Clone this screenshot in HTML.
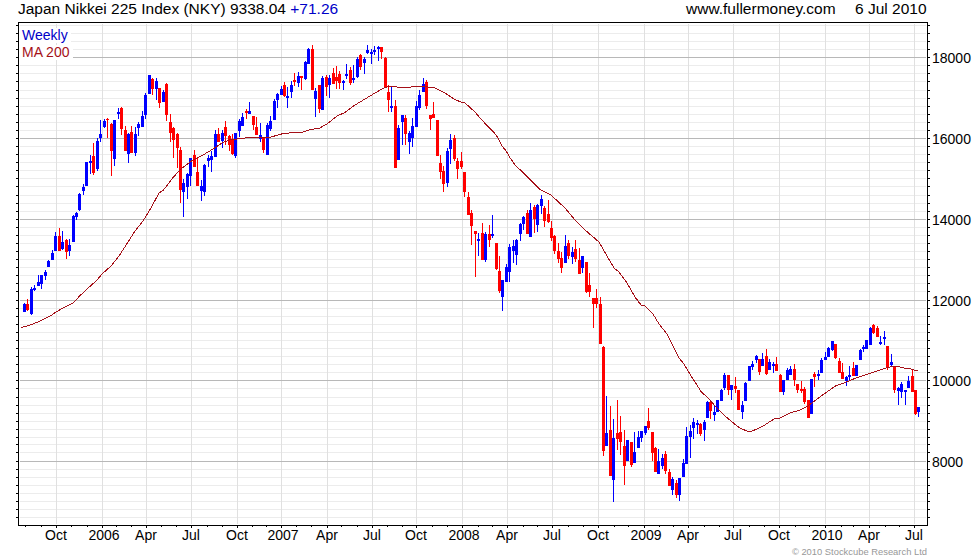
<!DOCTYPE html>
<html><head><meta charset="utf-8"><title>Japan Nikkei 225 Index</title>
<style>
html,body{margin:0;padding:0;background:#fff;}
body{width:980px;height:560px;overflow:hidden;position:relative;font-family:"Liberation Sans",sans-serif;}
svg{position:absolute;left:0;top:0;}
.t{position:absolute;white-space:nowrap;color:#000;line-height:1;}
</style></head><body>
<svg width="980" height="560" viewBox="0 0 980 560">
<rect x="0" y="0" width="980" height="560" fill="#fff"/>
<g shape-rendering="crispEdges">
<rect x="20" y="517" width="906" height="1" fill="#ececec"/><rect x="20" y="509" width="906" height="1" fill="#ececec"/><rect x="20" y="501" width="906" height="1" fill="#ececec"/><rect x="20" y="493" width="906" height="1" fill="#ececec"/><rect x="20" y="485" width="906" height="1" fill="#ececec"/><rect x="20" y="477" width="906" height="1" fill="#ececec"/><rect x="20" y="469" width="906" height="1" fill="#ececec"/><rect x="20" y="452" width="906" height="1" fill="#ececec"/><rect x="20" y="444" width="906" height="1" fill="#ececec"/><rect x="20" y="437" width="906" height="1" fill="#ececec"/><rect x="20" y="429" width="906" height="1" fill="#ececec"/><rect x="20" y="421" width="906" height="1" fill="#ececec"/><rect x="20" y="413" width="906" height="1" fill="#ececec"/><rect x="20" y="405" width="906" height="1" fill="#ececec"/><rect x="20" y="397" width="906" height="1" fill="#ececec"/><rect x="20" y="388" width="906" height="1" fill="#ececec"/><rect x="20" y="372" width="906" height="1" fill="#ececec"/><rect x="20" y="364" width="906" height="1" fill="#ececec"/><rect x="20" y="356" width="906" height="1" fill="#ececec"/><rect x="20" y="348" width="906" height="1" fill="#ececec"/><rect x="20" y="340" width="906" height="1" fill="#ececec"/><rect x="20" y="332" width="906" height="1" fill="#ececec"/><rect x="20" y="324" width="906" height="1" fill="#ececec"/><rect x="20" y="316" width="906" height="1" fill="#ececec"/><rect x="20" y="308" width="906" height="1" fill="#ececec"/><rect x="20" y="291" width="906" height="1" fill="#ececec"/><rect x="20" y="283" width="906" height="1" fill="#ececec"/><rect x="20" y="275" width="906" height="1" fill="#ececec"/><rect x="20" y="267" width="906" height="1" fill="#ececec"/><rect x="20" y="259" width="906" height="1" fill="#ececec"/><rect x="20" y="251" width="906" height="1" fill="#ececec"/><rect x="20" y="243" width="906" height="1" fill="#ececec"/><rect x="20" y="235" width="906" height="1" fill="#ececec"/><rect x="20" y="227" width="906" height="1" fill="#ececec"/><rect x="20" y="211" width="906" height="1" fill="#ececec"/><rect x="20" y="203" width="906" height="1" fill="#ececec"/><rect x="20" y="195" width="906" height="1" fill="#ececec"/><rect x="20" y="186" width="906" height="1" fill="#ececec"/><rect x="20" y="178" width="906" height="1" fill="#ececec"/><rect x="20" y="170" width="906" height="1" fill="#ececec"/><rect x="20" y="162" width="906" height="1" fill="#ececec"/><rect x="20" y="154" width="906" height="1" fill="#ececec"/><rect x="20" y="146" width="906" height="1" fill="#ececec"/><rect x="20" y="130" width="906" height="1" fill="#ececec"/><rect x="20" y="122" width="906" height="1" fill="#ececec"/><rect x="20" y="114" width="906" height="1" fill="#ececec"/><rect x="20" y="106" width="906" height="1" fill="#ececec"/><rect x="20" y="98" width="906" height="1" fill="#ececec"/><rect x="20" y="90" width="906" height="1" fill="#ececec"/><rect x="20" y="81" width="906" height="1" fill="#ececec"/><rect x="20" y="73" width="906" height="1" fill="#ececec"/><rect x="20" y="65" width="906" height="1" fill="#ececec"/><rect x="20" y="49" width="906" height="1" fill="#ececec"/><rect x="20" y="41" width="906" height="1" fill="#ececec"/><rect x="20" y="33" width="906" height="1" fill="#ececec"/><rect x="20" y="25" width="906" height="1" fill="#ececec"/>
<rect x="56" y="24" width="1" height="500" fill="#e0e0e0"/><rect x="102" y="24" width="1" height="500" fill="#e0e0e0"/><rect x="146" y="24" width="1" height="500" fill="#e0e0e0"/><rect x="191" y="24" width="1" height="500" fill="#e0e0e0"/><rect x="237" y="24" width="1" height="500" fill="#e0e0e0"/><rect x="281" y="24" width="1" height="500" fill="#e0e0e0"/><rect x="327" y="24" width="1" height="500" fill="#e0e0e0"/><rect x="372" y="24" width="1" height="500" fill="#e0e0e0"/><rect x="416" y="24" width="1" height="500" fill="#e0e0e0"/><rect x="462" y="24" width="1" height="500" fill="#e0e0e0"/><rect x="507" y="24" width="1" height="500" fill="#e0e0e0"/><rect x="552" y="24" width="1" height="500" fill="#e0e0e0"/><rect x="598" y="24" width="1" height="500" fill="#e0e0e0"/><rect x="644" y="24" width="1" height="500" fill="#e0e0e0"/><rect x="688" y="24" width="1" height="500" fill="#e0e0e0"/><rect x="733" y="24" width="1" height="500" fill="#e0e0e0"/><rect x="779" y="24" width="1" height="500" fill="#e0e0e0"/><rect x="825" y="24" width="1" height="500" fill="#e0e0e0"/><rect x="869" y="24" width="1" height="500" fill="#e0e0e0"/><rect x="914" y="24" width="1" height="500" fill="#e0e0e0"/>
<rect x="20" y="461" width="906" height="1" fill="#b8b8b8"/><rect x="20" y="380" width="906" height="1" fill="#b8b8b8"/><rect x="20" y="300" width="906" height="1" fill="#b8b8b8"/><rect x="20" y="219" width="906" height="1" fill="#b8b8b8"/><rect x="20" y="138" width="906" height="1" fill="#b8b8b8"/><rect x="20" y="57" width="906" height="1" fill="#b8b8b8"/>
<rect x="19" y="28" width="52" height="15" fill="#fff"/><rect x="19" y="45" width="54" height="15" fill="#fff"/>
<rect x="16" y="517" width="2" height="1" fill="#000"/><rect x="928" y="517" width="2" height="1" fill="#000"/><rect x="16" y="509" width="2" height="1" fill="#000"/><rect x="928" y="509" width="2" height="1" fill="#000"/><rect x="16" y="501" width="2" height="1" fill="#000"/><rect x="928" y="501" width="2" height="1" fill="#000"/><rect x="16" y="493" width="2" height="1" fill="#000"/><rect x="928" y="493" width="2" height="1" fill="#000"/><rect x="16" y="485" width="2" height="1" fill="#000"/><rect x="928" y="485" width="2" height="1" fill="#000"/><rect x="16" y="477" width="2" height="1" fill="#000"/><rect x="928" y="477" width="2" height="1" fill="#000"/><rect x="16" y="469" width="2" height="1" fill="#000"/><rect x="928" y="469" width="2" height="1" fill="#000"/><rect x="16" y="461" width="2" height="1" fill="#000"/><rect x="928" y="461" width="2" height="1" fill="#000"/><rect x="16" y="452" width="2" height="1" fill="#000"/><rect x="928" y="452" width="2" height="1" fill="#000"/><rect x="16" y="444" width="2" height="1" fill="#000"/><rect x="928" y="444" width="2" height="1" fill="#000"/><rect x="16" y="437" width="2" height="1" fill="#000"/><rect x="928" y="437" width="2" height="1" fill="#000"/><rect x="16" y="429" width="2" height="1" fill="#000"/><rect x="928" y="429" width="2" height="1" fill="#000"/><rect x="16" y="421" width="2" height="1" fill="#000"/><rect x="928" y="421" width="2" height="1" fill="#000"/><rect x="16" y="413" width="2" height="1" fill="#000"/><rect x="928" y="413" width="2" height="1" fill="#000"/><rect x="16" y="405" width="2" height="1" fill="#000"/><rect x="928" y="405" width="2" height="1" fill="#000"/><rect x="16" y="397" width="2" height="1" fill="#000"/><rect x="928" y="397" width="2" height="1" fill="#000"/><rect x="16" y="388" width="2" height="1" fill="#000"/><rect x="928" y="388" width="2" height="1" fill="#000"/><rect x="16" y="380" width="2" height="1" fill="#000"/><rect x="928" y="380" width="2" height="1" fill="#000"/><rect x="16" y="372" width="2" height="1" fill="#000"/><rect x="928" y="372" width="2" height="1" fill="#000"/><rect x="16" y="364" width="2" height="1" fill="#000"/><rect x="928" y="364" width="2" height="1" fill="#000"/><rect x="16" y="356" width="2" height="1" fill="#000"/><rect x="928" y="356" width="2" height="1" fill="#000"/><rect x="16" y="348" width="2" height="1" fill="#000"/><rect x="928" y="348" width="2" height="1" fill="#000"/><rect x="16" y="340" width="2" height="1" fill="#000"/><rect x="928" y="340" width="2" height="1" fill="#000"/><rect x="16" y="332" width="2" height="1" fill="#000"/><rect x="928" y="332" width="2" height="1" fill="#000"/><rect x="16" y="324" width="2" height="1" fill="#000"/><rect x="928" y="324" width="2" height="1" fill="#000"/><rect x="16" y="316" width="2" height="1" fill="#000"/><rect x="928" y="316" width="2" height="1" fill="#000"/><rect x="16" y="308" width="2" height="1" fill="#000"/><rect x="928" y="308" width="2" height="1" fill="#000"/><rect x="16" y="300" width="2" height="1" fill="#000"/><rect x="928" y="300" width="2" height="1" fill="#000"/><rect x="16" y="291" width="2" height="1" fill="#000"/><rect x="928" y="291" width="2" height="1" fill="#000"/><rect x="16" y="283" width="2" height="1" fill="#000"/><rect x="928" y="283" width="2" height="1" fill="#000"/><rect x="16" y="275" width="2" height="1" fill="#000"/><rect x="928" y="275" width="2" height="1" fill="#000"/><rect x="16" y="267" width="2" height="1" fill="#000"/><rect x="928" y="267" width="2" height="1" fill="#000"/><rect x="16" y="259" width="2" height="1" fill="#000"/><rect x="928" y="259" width="2" height="1" fill="#000"/><rect x="16" y="251" width="2" height="1" fill="#000"/><rect x="928" y="251" width="2" height="1" fill="#000"/><rect x="16" y="243" width="2" height="1" fill="#000"/><rect x="928" y="243" width="2" height="1" fill="#000"/><rect x="16" y="235" width="2" height="1" fill="#000"/><rect x="928" y="235" width="2" height="1" fill="#000"/><rect x="16" y="227" width="2" height="1" fill="#000"/><rect x="928" y="227" width="2" height="1" fill="#000"/><rect x="16" y="219" width="2" height="1" fill="#000"/><rect x="928" y="219" width="2" height="1" fill="#000"/><rect x="16" y="211" width="2" height="1" fill="#000"/><rect x="928" y="211" width="2" height="1" fill="#000"/><rect x="16" y="203" width="2" height="1" fill="#000"/><rect x="928" y="203" width="2" height="1" fill="#000"/><rect x="16" y="195" width="2" height="1" fill="#000"/><rect x="928" y="195" width="2" height="1" fill="#000"/><rect x="16" y="186" width="2" height="1" fill="#000"/><rect x="928" y="186" width="2" height="1" fill="#000"/><rect x="16" y="178" width="2" height="1" fill="#000"/><rect x="928" y="178" width="2" height="1" fill="#000"/><rect x="16" y="170" width="2" height="1" fill="#000"/><rect x="928" y="170" width="2" height="1" fill="#000"/><rect x="16" y="162" width="2" height="1" fill="#000"/><rect x="928" y="162" width="2" height="1" fill="#000"/><rect x="16" y="154" width="2" height="1" fill="#000"/><rect x="928" y="154" width="2" height="1" fill="#000"/><rect x="16" y="146" width="2" height="1" fill="#000"/><rect x="928" y="146" width="2" height="1" fill="#000"/><rect x="16" y="138" width="2" height="1" fill="#000"/><rect x="928" y="138" width="2" height="1" fill="#000"/><rect x="16" y="130" width="2" height="1" fill="#000"/><rect x="928" y="130" width="2" height="1" fill="#000"/><rect x="16" y="122" width="2" height="1" fill="#000"/><rect x="928" y="122" width="2" height="1" fill="#000"/><rect x="16" y="114" width="2" height="1" fill="#000"/><rect x="928" y="114" width="2" height="1" fill="#000"/><rect x="16" y="106" width="2" height="1" fill="#000"/><rect x="928" y="106" width="2" height="1" fill="#000"/><rect x="16" y="98" width="2" height="1" fill="#000"/><rect x="928" y="98" width="2" height="1" fill="#000"/><rect x="16" y="90" width="2" height="1" fill="#000"/><rect x="928" y="90" width="2" height="1" fill="#000"/><rect x="16" y="81" width="2" height="1" fill="#000"/><rect x="928" y="81" width="2" height="1" fill="#000"/><rect x="16" y="73" width="2" height="1" fill="#000"/><rect x="928" y="73" width="2" height="1" fill="#000"/><rect x="16" y="65" width="2" height="1" fill="#000"/><rect x="928" y="65" width="2" height="1" fill="#000"/><rect x="16" y="57" width="2" height="1" fill="#000"/><rect x="928" y="57" width="2" height="1" fill="#000"/><rect x="16" y="49" width="2" height="1" fill="#000"/><rect x="928" y="49" width="2" height="1" fill="#000"/><rect x="16" y="41" width="2" height="1" fill="#000"/><rect x="928" y="41" width="2" height="1" fill="#000"/><rect x="16" y="33" width="2" height="1" fill="#000"/><rect x="928" y="33" width="2" height="1" fill="#000"/><rect x="16" y="25" width="2" height="1" fill="#000"/><rect x="928" y="25" width="2" height="1" fill="#000"/>
<rect x="25" y="526" width="1" height="1" fill="#000"/><rect x="41" y="526" width="1" height="1" fill="#000"/><rect x="56" y="526" width="1" height="2" fill="#000"/><rect x="71" y="526" width="1" height="1" fill="#000"/><rect x="87" y="526" width="1" height="1" fill="#000"/><rect x="102" y="526" width="1" height="2" fill="#000"/><rect x="116" y="526" width="1" height="1" fill="#000"/><rect x="131" y="526" width="1" height="1" fill="#000"/><rect x="146" y="526" width="1" height="2" fill="#000"/><rect x="161" y="526" width="1" height="1" fill="#000"/><rect x="176" y="526" width="1" height="1" fill="#000"/><rect x="191" y="526" width="1" height="2" fill="#000"/><rect x="207" y="526" width="1" height="1" fill="#000"/><rect x="222" y="526" width="1" height="1" fill="#000"/><rect x="237" y="526" width="1" height="2" fill="#000"/><rect x="252" y="526" width="1" height="1" fill="#000"/><rect x="266" y="526" width="1" height="1" fill="#000"/><rect x="281" y="526" width="1" height="2" fill="#000"/><rect x="296" y="526" width="1" height="1" fill="#000"/><rect x="311" y="526" width="1" height="1" fill="#000"/><rect x="327" y="526" width="1" height="2" fill="#000"/><rect x="341" y="526" width="1" height="1" fill="#000"/><rect x="357" y="526" width="1" height="1" fill="#000"/><rect x="372" y="526" width="1" height="2" fill="#000"/><rect x="387" y="526" width="1" height="1" fill="#000"/><rect x="402" y="526" width="1" height="1" fill="#000"/><rect x="416" y="526" width="1" height="2" fill="#000"/><rect x="432" y="526" width="1" height="1" fill="#000"/><rect x="447" y="526" width="1" height="1" fill="#000"/><rect x="462" y="526" width="1" height="2" fill="#000"/><rect x="478" y="526" width="1" height="1" fill="#000"/><rect x="492" y="526" width="1" height="1" fill="#000"/><rect x="507" y="526" width="1" height="2" fill="#000"/><rect x="523" y="526" width="1" height="1" fill="#000"/><rect x="537" y="526" width="1" height="1" fill="#000"/><rect x="552" y="526" width="1" height="2" fill="#000"/><rect x="568" y="526" width="1" height="1" fill="#000"/><rect x="583" y="526" width="1" height="1" fill="#000"/><rect x="598" y="526" width="1" height="2" fill="#000"/><rect x="614" y="526" width="1" height="1" fill="#000"/><rect x="628" y="526" width="1" height="1" fill="#000"/><rect x="644" y="526" width="1" height="2" fill="#000"/><rect x="659" y="526" width="1" height="1" fill="#000"/><rect x="673" y="526" width="1" height="1" fill="#000"/><rect x="688" y="526" width="1" height="2" fill="#000"/><rect x="704" y="526" width="1" height="1" fill="#000"/><rect x="719" y="526" width="1" height="1" fill="#000"/><rect x="733" y="526" width="1" height="2" fill="#000"/><rect x="749" y="526" width="1" height="1" fill="#000"/><rect x="764" y="526" width="1" height="1" fill="#000"/><rect x="779" y="526" width="1" height="2" fill="#000"/><rect x="795" y="526" width="1" height="1" fill="#000"/><rect x="809" y="526" width="1" height="1" fill="#000"/><rect x="825" y="526" width="1" height="2" fill="#000"/><rect x="841" y="526" width="1" height="1" fill="#000"/><rect x="853" y="526" width="1" height="1" fill="#000"/><rect x="869" y="526" width="1" height="2" fill="#000"/><rect x="885" y="526" width="1" height="1" fill="#000"/><rect x="899" y="526" width="1" height="1" fill="#000"/><rect x="914" y="526" width="1" height="2" fill="#000"/>
<rect x="18" y="22" width="910" height="1" fill="#000"/><rect x="18" y="525" width="910" height="1" fill="#000"/><rect x="18" y="22" width="1" height="504" fill="#000"/><rect x="927" y="22" width="1" height="504" fill="#000"/>
<rect x="24" y="303" width="1" height="9" fill="#0000ff"/><rect x="23" y="304" width="3" height="8" fill="#0000ff"/><rect x="27" y="299" width="1" height="12" fill="#ff0000"/><rect x="26" y="304" width="3" height="6" fill="#ff0000"/><rect x="31" y="287" width="1" height="28" fill="#0000ff"/><rect x="30" y="289" width="3" height="25" fill="#0000ff"/><rect x="34" y="285" width="1" height="6" fill="#0000ff"/><rect x="33" y="288" width="3" height="2" fill="#0000ff"/><rect x="38" y="275" width="1" height="11" fill="#0000ff"/><rect x="37" y="282" width="3" height="4" fill="#0000ff"/><rect x="41" y="275" width="1" height="14" fill="#0000ff"/><rect x="40" y="275" width="3" height="9" fill="#0000ff"/><rect x="45" y="270" width="1" height="10" fill="#0000ff"/><rect x="44" y="272" width="3" height="4" fill="#0000ff"/><rect x="48" y="260" width="1" height="7" fill="#0000ff"/><rect x="47" y="261" width="3" height="6" fill="#0000ff"/><rect x="52" y="250" width="1" height="10" fill="#0000ff"/><rect x="51" y="253" width="3" height="7" fill="#0000ff"/><rect x="55" y="232" width="1" height="19" fill="#0000ff"/><rect x="54" y="236" width="3" height="15" fill="#0000ff"/><rect x="59" y="228" width="1" height="23" fill="#ff0000"/><rect x="58" y="236" width="3" height="15" fill="#ff0000"/><rect x="62" y="231" width="1" height="19" fill="#0000ff"/><rect x="61" y="242" width="3" height="7" fill="#0000ff"/><rect x="66" y="239" width="1" height="20" fill="#ff0000"/><rect x="65" y="240" width="3" height="12" fill="#ff0000"/><rect x="69" y="239" width="1" height="17" fill="#0000ff"/><rect x="68" y="245" width="3" height="6" fill="#0000ff"/><rect x="73" y="215" width="1" height="27" fill="#0000ff"/><rect x="72" y="216" width="3" height="26" fill="#0000ff"/><rect x="76" y="212" width="1" height="8" fill="#0000ff"/><rect x="75" y="213" width="3" height="4" fill="#0000ff"/><rect x="79" y="193" width="1" height="18" fill="#0000ff"/><rect x="78" y="194" width="3" height="16" fill="#0000ff"/><rect x="83" y="184" width="1" height="11" fill="#0000ff"/><rect x="82" y="187" width="3" height="4" fill="#0000ff"/><rect x="86" y="162" width="1" height="24" fill="#0000ff"/><rect x="85" y="162" width="3" height="24" fill="#0000ff"/><rect x="90" y="155" width="1" height="19" fill="#0000ff"/><rect x="89" y="161" width="3" height="2" fill="#0000ff"/><rect x="93" y="143" width="1" height="32" fill="#ff0000"/><rect x="92" y="156" width="3" height="17" fill="#ff0000"/><rect x="97" y="138" width="1" height="33" fill="#0000ff"/><rect x="96" y="141" width="3" height="28" fill="#0000ff"/><rect x="100" y="120" width="1" height="22" fill="#0000ff"/><rect x="99" y="134" width="3" height="4" fill="#0000ff"/><rect x="104" y="119" width="1" height="9" fill="#0000ff"/><rect x="103" y="121" width="3" height="6" fill="#0000ff"/><rect x="107" y="118" width="1" height="20" fill="#ff0000"/><rect x="106" y="119" width="3" height="1" fill="#ff0000"/><rect x="111" y="123" width="1" height="53" fill="#ff0000"/><rect x="110" y="124" width="3" height="27" fill="#ff0000"/><rect x="114" y="120" width="1" height="46" fill="#0000ff"/><rect x="113" y="120" width="3" height="39" fill="#0000ff"/><rect x="118" y="108" width="1" height="11" fill="#0000ff"/><rect x="117" y="112" width="3" height="2" fill="#0000ff"/><rect x="121" y="107" width="1" height="28" fill="#ff0000"/><rect x="120" y="108" width="3" height="21" fill="#ff0000"/><rect x="125" y="126" width="1" height="25" fill="#ff0000"/><rect x="124" y="130" width="3" height="21" fill="#ff0000"/><rect x="128" y="133" width="1" height="30" fill="#0000ff"/><rect x="127" y="134" width="3" height="20" fill="#0000ff"/><rect x="131" y="126" width="1" height="27" fill="#ff0000"/><rect x="130" y="132" width="3" height="21" fill="#ff0000"/><rect x="135" y="127" width="1" height="29" fill="#0000ff"/><rect x="134" y="134" width="3" height="19" fill="#0000ff"/><rect x="138" y="122" width="1" height="14" fill="#0000ff"/><rect x="137" y="124" width="3" height="4" fill="#0000ff"/><rect x="142" y="111" width="1" height="16" fill="#0000ff"/><rect x="141" y="116" width="3" height="11" fill="#0000ff"/><rect x="145" y="93" width="1" height="26" fill="#0000ff"/><rect x="144" y="95" width="3" height="20" fill="#0000ff"/><rect x="149" y="75" width="1" height="19" fill="#0000ff"/><rect x="148" y="75" width="3" height="19" fill="#0000ff"/><rect x="152" y="78" width="1" height="17" fill="#ff0000"/><rect x="151" y="79" width="3" height="10" fill="#ff0000"/><rect x="156" y="78" width="1" height="22" fill="#0000ff"/><rect x="155" y="81" width="3" height="8" fill="#0000ff"/><rect x="159" y="88" width="1" height="20" fill="#ff0000"/><rect x="158" y="88" width="3" height="15" fill="#ff0000"/><rect x="163" y="90" width="1" height="12" fill="#0000ff"/><rect x="162" y="92" width="3" height="10" fill="#0000ff"/><rect x="166" y="83" width="1" height="38" fill="#ff0000"/><rect x="165" y="84" width="3" height="31" fill="#ff0000"/><rect x="170" y="114" width="1" height="28" fill="#ff0000"/><rect x="169" y="122" width="3" height="11" fill="#ff0000"/><rect x="173" y="127" width="1" height="31" fill="#ff0000"/><rect x="172" y="128" width="3" height="12" fill="#ff0000"/><rect x="177" y="133" width="1" height="35" fill="#ff0000"/><rect x="176" y="134" width="3" height="14" fill="#ff0000"/><rect x="180" y="147" width="1" height="56" fill="#ff0000"/><rect x="179" y="150" width="3" height="40" fill="#ff0000"/><rect x="183" y="179" width="1" height="38" fill="#0000ff"/><rect x="182" y="183" width="3" height="9" fill="#0000ff"/><rect x="187" y="173" width="1" height="26" fill="#0000ff"/><rect x="186" y="174" width="3" height="13" fill="#0000ff"/><rect x="190" y="158" width="1" height="28" fill="#0000ff"/><rect x="189" y="158" width="3" height="18" fill="#0000ff"/><rect x="194" y="150" width="1" height="17" fill="#ff0000"/><rect x="193" y="155" width="3" height="12" fill="#ff0000"/><rect x="197" y="157" width="1" height="29" fill="#ff0000"/><rect x="196" y="172" width="3" height="14" fill="#ff0000"/><rect x="201" y="180" width="1" height="21" fill="#0000ff"/><rect x="200" y="186" width="3" height="5" fill="#0000ff"/><rect x="204" y="164" width="1" height="32" fill="#0000ff"/><rect x="203" y="165" width="3" height="27" fill="#0000ff"/><rect x="208" y="155" width="1" height="12" fill="#0000ff"/><rect x="207" y="158" width="3" height="3" fill="#0000ff"/><rect x="211" y="151" width="1" height="21" fill="#0000ff"/><rect x="210" y="156" width="3" height="4" fill="#0000ff"/><rect x="215" y="130" width="1" height="27" fill="#0000ff"/><rect x="214" y="134" width="3" height="23" fill="#0000ff"/><rect x="218" y="128" width="1" height="14" fill="#ff0000"/><rect x="217" y="134" width="3" height="8" fill="#ff0000"/><rect x="222" y="130" width="1" height="18" fill="#0000ff"/><rect x="221" y="133" width="3" height="8" fill="#0000ff"/><rect x="225" y="121" width="1" height="24" fill="#ff0000"/><rect x="224" y="127" width="3" height="9" fill="#ff0000"/><rect x="229" y="135" width="1" height="16" fill="#ff0000"/><rect x="228" y="136" width="3" height="9" fill="#ff0000"/><rect x="232" y="134" width="1" height="21" fill="#ff0000"/><rect x="231" y="140" width="3" height="14" fill="#ff0000"/><rect x="235" y="133" width="1" height="25" fill="#0000ff"/><rect x="234" y="133" width="3" height="23" fill="#0000ff"/><rect x="239" y="119" width="1" height="18" fill="#0000ff"/><rect x="238" y="121" width="3" height="10" fill="#0000ff"/><rect x="242" y="113" width="1" height="13" fill="#0000ff"/><rect x="241" y="117" width="3" height="9" fill="#0000ff"/><rect x="246" y="109" width="1" height="10" fill="#ff0000"/><rect x="245" y="111" width="3" height="2" fill="#ff0000"/><rect x="249" y="102" width="1" height="12" fill="#0000ff"/><rect x="248" y="111" width="3" height="3" fill="#0000ff"/><rect x="253" y="116" width="1" height="14" fill="#ff0000"/><rect x="252" y="116" width="3" height="9" fill="#ff0000"/><rect x="256" y="117" width="1" height="18" fill="#ff0000"/><rect x="255" y="127" width="3" height="8" fill="#ff0000"/><rect x="260" y="123" width="1" height="19" fill="#0000ff"/><rect x="259" y="135" width="3" height="4" fill="#0000ff"/><rect x="263" y="138" width="1" height="15" fill="#ff0000"/><rect x="262" y="138" width="3" height="12" fill="#ff0000"/><rect x="267" y="123" width="1" height="32" fill="#0000ff"/><rect x="266" y="125" width="3" height="30" fill="#0000ff"/><rect x="270" y="116" width="1" height="15" fill="#0000ff"/><rect x="269" y="121" width="3" height="8" fill="#0000ff"/><rect x="274" y="99" width="1" height="21" fill="#0000ff"/><rect x="273" y="101" width="3" height="19" fill="#0000ff"/><rect x="277" y="93" width="1" height="15" fill="#0000ff"/><rect x="276" y="94" width="3" height="6" fill="#0000ff"/><rect x="281" y="86" width="1" height="9" fill="#0000ff"/><rect x="280" y="89" width="3" height="6" fill="#0000ff"/><rect x="284" y="82" width="1" height="15" fill="#ff0000"/><rect x="283" y="85" width="3" height="11" fill="#ff0000"/><rect x="287" y="87" width="1" height="21" fill="#0000ff"/><rect x="286" y="96" width="3" height="2" fill="#0000ff"/><rect x="291" y="81" width="1" height="17" fill="#0000ff"/><rect x="290" y="85" width="3" height="7" fill="#0000ff"/><rect x="294" y="73" width="1" height="13" fill="#ff0000"/><rect x="293" y="80" width="3" height="2" fill="#ff0000"/><rect x="298" y="72" width="1" height="15" fill="#0000ff"/><rect x="297" y="76" width="3" height="7" fill="#0000ff"/><rect x="301" y="76" width="1" height="14" fill="#ff0000"/><rect x="300" y="76" width="3" height="2" fill="#ff0000"/><rect x="305" y="61" width="1" height="19" fill="#0000ff"/><rect x="304" y="62" width="3" height="17" fill="#0000ff"/><rect x="308" y="48" width="1" height="16" fill="#0000ff"/><rect x="307" y="49" width="3" height="15" fill="#0000ff"/><rect x="312" y="45" width="1" height="45" fill="#ff0000"/><rect x="311" y="49" width="3" height="41" fill="#ff0000"/><rect x="315" y="88" width="1" height="29" fill="#0000ff"/><rect x="314" y="91" width="3" height="8" fill="#0000ff"/><rect x="319" y="85" width="1" height="28" fill="#ff0000"/><rect x="318" y="85" width="3" height="24" fill="#ff0000"/><rect x="322" y="76" width="1" height="34" fill="#0000ff"/><rect x="321" y="78" width="3" height="32" fill="#0000ff"/><rect x="326" y="75" width="1" height="21" fill="#ff0000"/><rect x="325" y="77" width="3" height="10" fill="#ff0000"/><rect x="329" y="75" width="1" height="23" fill="#0000ff"/><rect x="328" y="78" width="3" height="7" fill="#0000ff"/><rect x="333" y="68" width="1" height="16" fill="#ff0000"/><rect x="332" y="73" width="3" height="11" fill="#ff0000"/><rect x="336" y="66" width="1" height="23" fill="#ff0000"/><rect x="335" y="77" width="3" height="4" fill="#ff0000"/><rect x="339" y="71" width="1" height="18" fill="#ff0000"/><rect x="338" y="74" width="3" height="9" fill="#ff0000"/><rect x="343" y="80" width="1" height="10" fill="#0000ff"/><rect x="342" y="81" width="3" height="2" fill="#0000ff"/><rect x="346" y="64" width="1" height="15" fill="#0000ff"/><rect x="345" y="74" width="3" height="2" fill="#0000ff"/><rect x="350" y="67" width="1" height="18" fill="#ff0000"/><rect x="349" y="70" width="3" height="13" fill="#ff0000"/><rect x="353" y="65" width="1" height="18" fill="#0000ff"/><rect x="352" y="78" width="3" height="2" fill="#0000ff"/><rect x="357" y="57" width="1" height="21" fill="#0000ff"/><rect x="356" y="59" width="3" height="18" fill="#0000ff"/><rect x="360" y="54" width="1" height="16" fill="#ff0000"/><rect x="359" y="55" width="3" height="12" fill="#ff0000"/><rect x="364" y="57" width="1" height="17" fill="#0000ff"/><rect x="363" y="59" width="3" height="4" fill="#0000ff"/><rect x="367" y="45" width="1" height="9" fill="#0000ff"/><rect x="366" y="50" width="3" height="3" fill="#0000ff"/><rect x="371" y="49" width="1" height="15" fill="#0000ff"/><rect x="370" y="52" width="3" height="2" fill="#0000ff"/><rect x="374" y="46" width="1" height="9" fill="#0000ff"/><rect x="373" y="50" width="3" height="2" fill="#0000ff"/><rect x="378" y="46" width="1" height="15" fill="#0000ff"/><rect x="377" y="47" width="3" height="2" fill="#0000ff"/><rect x="381" y="47" width="1" height="12" fill="#ff0000"/><rect x="380" y="47" width="3" height="5" fill="#ff0000"/><rect x="385" y="57" width="1" height="31" fill="#ff0000"/><rect x="384" y="58" width="3" height="30" fill="#ff0000"/><rect x="388" y="85" width="1" height="27" fill="#ff0000"/><rect x="387" y="92" width="3" height="8" fill="#ff0000"/><rect x="391" y="87" width="1" height="25" fill="#0000ff"/><rect x="390" y="106" width="3" height="2" fill="#0000ff"/><rect x="395" y="100" width="1" height="68" fill="#ff0000"/><rect x="394" y="106" width="3" height="62" fill="#ff0000"/><rect x="398" y="125" width="1" height="35" fill="#0000ff"/><rect x="397" y="128" width="3" height="32" fill="#0000ff"/><rect x="402" y="115" width="1" height="30" fill="#0000ff"/><rect x="401" y="115" width="3" height="7" fill="#0000ff"/><rect x="405" y="115" width="1" height="30" fill="#ff0000"/><rect x="404" y="118" width="3" height="16" fill="#ff0000"/><rect x="409" y="131" width="1" height="23" fill="#0000ff"/><rect x="408" y="133" width="3" height="9" fill="#0000ff"/><rect x="412" y="118" width="1" height="29" fill="#0000ff"/><rect x="411" y="126" width="3" height="12" fill="#0000ff"/><rect x="416" y="101" width="1" height="26" fill="#0000ff"/><rect x="415" y="106" width="3" height="21" fill="#0000ff"/><rect x="419" y="90" width="1" height="20" fill="#0000ff"/><rect x="418" y="95" width="3" height="13" fill="#0000ff"/><rect x="423" y="78" width="1" height="14" fill="#0000ff"/><rect x="422" y="84" width="3" height="8" fill="#0000ff"/><rect x="426" y="80" width="1" height="29" fill="#ff0000"/><rect x="425" y="82" width="3" height="24" fill="#ff0000"/><rect x="430" y="115" width="1" height="15" fill="#ff0000"/><rect x="429" y="115" width="3" height="4" fill="#ff0000"/><rect x="433" y="102" width="1" height="16" fill="#ff0000"/><rect x="432" y="114" width="3" height="4" fill="#ff0000"/><rect x="437" y="120" width="1" height="36" fill="#ff0000"/><rect x="436" y="120" width="3" height="36" fill="#ff0000"/><rect x="440" y="155" width="1" height="24" fill="#ff0000"/><rect x="439" y="163" width="3" height="9" fill="#ff0000"/><rect x="443" y="166" width="1" height="26" fill="#ff0000"/><rect x="442" y="171" width="3" height="13" fill="#ff0000"/><rect x="447" y="148" width="1" height="39" fill="#0000ff"/><rect x="446" y="151" width="3" height="32" fill="#0000ff"/><rect x="450" y="134" width="1" height="30" fill="#0000ff"/><rect x="449" y="140" width="3" height="9" fill="#0000ff"/><rect x="454" y="135" width="1" height="26" fill="#ff0000"/><rect x="453" y="138" width="3" height="21" fill="#ff0000"/><rect x="457" y="158" width="1" height="21" fill="#ff0000"/><rect x="456" y="161" width="3" height="8" fill="#ff0000"/><rect x="461" y="152" width="1" height="17" fill="#ff0000"/><rect x="460" y="161" width="3" height="6" fill="#ff0000"/><rect x="464" y="172" width="1" height="25" fill="#ff0000"/><rect x="463" y="172" width="3" height="20" fill="#ff0000"/><rect x="468" y="192" width="1" height="23" fill="#ff0000"/><rect x="467" y="197" width="3" height="18" fill="#ff0000"/><rect x="471" y="210" width="1" height="35" fill="#ff0000"/><rect x="470" y="213" width="3" height="13" fill="#ff0000"/><rect x="475" y="231" width="1" height="46" fill="#ff0000"/><rect x="474" y="231" width="3" height="3" fill="#ff0000"/><rect x="478" y="233" width="1" height="23" fill="#0000ff"/><rect x="477" y="239" width="3" height="2" fill="#0000ff"/><rect x="482" y="223" width="1" height="37" fill="#ff0000"/><rect x="481" y="233" width="3" height="27" fill="#ff0000"/><rect x="485" y="232" width="1" height="30" fill="#0000ff"/><rect x="484" y="234" width="3" height="26" fill="#0000ff"/><rect x="489" y="225" width="1" height="22" fill="#ff0000"/><rect x="488" y="234" width="3" height="6" fill="#ff0000"/><rect x="492" y="215" width="1" height="23" fill="#0000ff"/><rect x="491" y="234" width="3" height="2" fill="#0000ff"/><rect x="496" y="243" width="1" height="27" fill="#ff0000"/><rect x="495" y="243" width="3" height="26" fill="#ff0000"/><rect x="499" y="256" width="1" height="37" fill="#ff0000"/><rect x="498" y="271" width="3" height="20" fill="#ff0000"/><rect x="502" y="280" width="1" height="31" fill="#0000ff"/><rect x="501" y="280" width="3" height="17" fill="#0000ff"/><rect x="506" y="264" width="1" height="18" fill="#0000ff"/><rect x="505" y="267" width="3" height="15" fill="#0000ff"/><rect x="509" y="244" width="1" height="38" fill="#0000ff"/><rect x="508" y="247" width="3" height="25" fill="#0000ff"/><rect x="513" y="240" width="1" height="23" fill="#0000ff"/><rect x="512" y="246" width="3" height="5" fill="#0000ff"/><rect x="516" y="239" width="1" height="26" fill="#0000ff"/><rect x="515" y="240" width="3" height="15" fill="#0000ff"/><rect x="520" y="223" width="1" height="18" fill="#0000ff"/><rect x="519" y="224" width="3" height="10" fill="#0000ff"/><rect x="523" y="216" width="1" height="14" fill="#0000ff"/><rect x="522" y="217" width="3" height="7" fill="#0000ff"/><rect x="527" y="210" width="1" height="24" fill="#ff0000"/><rect x="526" y="213" width="3" height="21" fill="#ff0000"/><rect x="530" y="203" width="1" height="34" fill="#0000ff"/><rect x="529" y="210" width="3" height="27" fill="#0000ff"/><rect x="534" y="205" width="1" height="28" fill="#ff0000"/><rect x="533" y="207" width="3" height="12" fill="#ff0000"/><rect x="537" y="204" width="1" height="28" fill="#0000ff"/><rect x="536" y="205" width="3" height="20" fill="#0000ff"/><rect x="541" y="195" width="1" height="19" fill="#0000ff"/><rect x="540" y="199" width="3" height="7" fill="#0000ff"/><rect x="544" y="206" width="1" height="21" fill="#ff0000"/><rect x="543" y="208" width="3" height="13" fill="#ff0000"/><rect x="548" y="200" width="1" height="23" fill="#ff0000"/><rect x="547" y="214" width="3" height="8" fill="#ff0000"/><rect x="551" y="221" width="1" height="20" fill="#ff0000"/><rect x="550" y="228" width="3" height="10" fill="#ff0000"/><rect x="554" y="235" width="1" height="19" fill="#ff0000"/><rect x="553" y="236" width="3" height="15" fill="#ff0000"/><rect x="558" y="243" width="1" height="20" fill="#ff0000"/><rect x="557" y="251" width="3" height="8" fill="#ff0000"/><rect x="561" y="252" width="1" height="21" fill="#ff0000"/><rect x="560" y="258" width="3" height="10" fill="#ff0000"/><rect x="565" y="235" width="1" height="28" fill="#0000ff"/><rect x="564" y="246" width="3" height="17" fill="#0000ff"/><rect x="568" y="240" width="1" height="19" fill="#ff0000"/><rect x="567" y="243" width="3" height="13" fill="#ff0000"/><rect x="572" y="247" width="1" height="17" fill="#0000ff"/><rect x="571" y="252" width="3" height="5" fill="#0000ff"/><rect x="575" y="240" width="1" height="22" fill="#ff0000"/><rect x="574" y="249" width="3" height="10" fill="#ff0000"/><rect x="579" y="248" width="1" height="26" fill="#ff0000"/><rect x="578" y="260" width="3" height="14" fill="#ff0000"/><rect x="582" y="256" width="1" height="17" fill="#0000ff"/><rect x="581" y="256" width="3" height="12" fill="#0000ff"/><rect x="586" y="262" width="1" height="31" fill="#ff0000"/><rect x="585" y="262" width="3" height="30" fill="#ff0000"/><rect x="589" y="273" width="1" height="24" fill="#ff0000"/><rect x="588" y="285" width="3" height="7" fill="#ff0000"/><rect x="593" y="298" width="1" height="30" fill="#ff0000"/><rect x="592" y="298" width="3" height="6" fill="#ff0000"/><rect x="596" y="289" width="1" height="19" fill="#ff0000"/><rect x="595" y="298" width="3" height="6" fill="#ff0000"/><rect x="600" y="297" width="1" height="47" fill="#ff0000"/><rect x="599" y="304" width="3" height="40" fill="#ff0000"/><rect x="603" y="346" width="1" height="110" fill="#ff0000"/><rect x="602" y="347" width="3" height="104" fill="#ff0000"/><rect x="606" y="396" width="1" height="50" fill="#0000ff"/><rect x="605" y="433" width="3" height="13" fill="#0000ff"/><rect x="610" y="406" width="1" height="70" fill="#ff0000"/><rect x="609" y="430" width="3" height="46" fill="#ff0000"/><rect x="613" y="419" width="1" height="83" fill="#0000ff"/><rect x="612" y="438" width="3" height="42" fill="#0000ff"/><rect x="617" y="400" width="1" height="50" fill="#ff0000"/><rect x="616" y="433" width="3" height="6" fill="#ff0000"/><rect x="620" y="416" width="1" height="39" fill="#ff0000"/><rect x="619" y="432" width="3" height="10" fill="#ff0000"/><rect x="624" y="430" width="1" height="55" fill="#ff0000"/><rect x="623" y="446" width="3" height="20" fill="#ff0000"/><rect x="627" y="440" width="1" height="21" fill="#0000ff"/><rect x="626" y="440" width="3" height="21" fill="#0000ff"/><rect x="631" y="442" width="1" height="25" fill="#ff0000"/><rect x="630" y="442" width="3" height="23" fill="#ff0000"/><rect x="634" y="432" width="1" height="31" fill="#0000ff"/><rect x="633" y="452" width="3" height="11" fill="#0000ff"/><rect x="638" y="431" width="1" height="17" fill="#0000ff"/><rect x="637" y="437" width="3" height="11" fill="#0000ff"/><rect x="641" y="431" width="1" height="11" fill="#0000ff"/><rect x="640" y="431" width="3" height="7" fill="#0000ff"/><rect x="645" y="426" width="1" height="9" fill="#0000ff"/><rect x="644" y="426" width="3" height="7" fill="#0000ff"/><rect x="648" y="408" width="1" height="22" fill="#ff0000"/><rect x="647" y="421" width="3" height="7" fill="#ff0000"/><rect x="652" y="432" width="1" height="29" fill="#ff0000"/><rect x="651" y="432" width="3" height="21" fill="#ff0000"/><rect x="655" y="447" width="1" height="25" fill="#ff0000"/><rect x="654" y="448" width="3" height="24" fill="#ff0000"/><rect x="658" y="449" width="1" height="25" fill="#0000ff"/><rect x="657" y="461" width="3" height="13" fill="#0000ff"/><rect x="662" y="454" width="1" height="15" fill="#0000ff"/><rect x="661" y="458" width="3" height="8" fill="#0000ff"/><rect x="665" y="451" width="1" height="23" fill="#ff0000"/><rect x="664" y="454" width="3" height="17" fill="#ff0000"/><rect x="669" y="469" width="1" height="17" fill="#ff0000"/><rect x="668" y="472" width="3" height="14" fill="#ff0000"/><rect x="672" y="477" width="1" height="18" fill="#0000ff"/><rect x="671" y="479" width="3" height="11" fill="#0000ff"/><rect x="676" y="480" width="1" height="18" fill="#ff0000"/><rect x="675" y="483" width="3" height="12" fill="#ff0000"/><rect x="679" y="478" width="1" height="23" fill="#0000ff"/><rect x="678" y="478" width="3" height="17" fill="#0000ff"/><rect x="683" y="459" width="1" height="18" fill="#0000ff"/><rect x="682" y="463" width="3" height="14" fill="#0000ff"/><rect x="686" y="427" width="1" height="37" fill="#0000ff"/><rect x="685" y="436" width="3" height="28" fill="#0000ff"/><rect x="690" y="425" width="1" height="33" fill="#0000ff"/><rect x="689" y="431" width="3" height="6" fill="#0000ff"/><rect x="693" y="418" width="1" height="21" fill="#0000ff"/><rect x="692" y="422" width="3" height="6" fill="#0000ff"/><rect x="697" y="420" width="1" height="14" fill="#0000ff"/><rect x="696" y="423" width="3" height="2" fill="#0000ff"/><rect x="700" y="423" width="1" height="13" fill="#ff0000"/><rect x="699" y="424" width="3" height="10" fill="#ff0000"/><rect x="704" y="420" width="1" height="21" fill="#0000ff"/><rect x="703" y="422" width="3" height="8" fill="#0000ff"/><rect x="707" y="401" width="1" height="17" fill="#0000ff"/><rect x="706" y="402" width="3" height="16" fill="#0000ff"/><rect x="710" y="400" width="1" height="19" fill="#ff0000"/><rect x="709" y="402" width="3" height="9" fill="#ff0000"/><rect x="714" y="406" width="1" height="15" fill="#0000ff"/><rect x="713" y="412" width="3" height="3" fill="#0000ff"/><rect x="717" y="400" width="1" height="12" fill="#0000ff"/><rect x="716" y="400" width="3" height="12" fill="#0000ff"/><rect x="721" y="389" width="1" height="12" fill="#0000ff"/><rect x="720" y="390" width="3" height="11" fill="#0000ff"/><rect x="724" y="373" width="1" height="17" fill="#0000ff"/><rect x="723" y="375" width="3" height="13" fill="#0000ff"/><rect x="728" y="375" width="1" height="20" fill="#ff0000"/><rect x="727" y="375" width="3" height="15" fill="#ff0000"/><rect x="731" y="385" width="1" height="15" fill="#0000ff"/><rect x="730" y="385" width="3" height="5" fill="#0000ff"/><rect x="735" y="377" width="1" height="16" fill="#ff0000"/><rect x="734" y="386" width="3" height="3" fill="#ff0000"/><rect x="738" y="390" width="1" height="20" fill="#ff0000"/><rect x="737" y="390" width="3" height="20" fill="#ff0000"/><rect x="742" y="401" width="1" height="18" fill="#0000ff"/><rect x="741" y="405" width="3" height="7" fill="#0000ff"/><rect x="745" y="382" width="1" height="19" fill="#0000ff"/><rect x="744" y="383" width="3" height="18" fill="#0000ff"/><rect x="749" y="366" width="1" height="15" fill="#0000ff"/><rect x="748" y="366" width="3" height="15" fill="#0000ff"/><rect x="752" y="361" width="1" height="9" fill="#0000ff"/><rect x="751" y="364" width="3" height="3" fill="#0000ff"/><rect x="756" y="355" width="1" height="8" fill="#0000ff"/><rect x="755" y="356" width="3" height="4" fill="#0000ff"/><rect x="759" y="359" width="1" height="16" fill="#ff0000"/><rect x="758" y="359" width="3" height="13" fill="#ff0000"/><rect x="762" y="353" width="1" height="13" fill="#0000ff"/><rect x="761" y="359" width="3" height="7" fill="#0000ff"/><rect x="766" y="349" width="1" height="26" fill="#ff0000"/><rect x="765" y="356" width="3" height="18" fill="#ff0000"/><rect x="769" y="359" width="1" height="11" fill="#0000ff"/><rect x="768" y="362" width="3" height="8" fill="#0000ff"/><rect x="773" y="362" width="1" height="11" fill="#0000ff"/><rect x="772" y="364" width="3" height="2" fill="#0000ff"/><rect x="776" y="357" width="1" height="14" fill="#ff0000"/><rect x="775" y="364" width="3" height="7" fill="#ff0000"/><rect x="780" y="374" width="1" height="18" fill="#ff0000"/><rect x="779" y="375" width="3" height="17" fill="#ff0000"/><rect x="783" y="380" width="1" height="15" fill="#0000ff"/><rect x="782" y="380" width="3" height="12" fill="#0000ff"/><rect x="787" y="368" width="1" height="12" fill="#0000ff"/><rect x="786" y="370" width="3" height="10" fill="#0000ff"/><rect x="790" y="366" width="1" height="9" fill="#0000ff"/><rect x="789" y="369" width="3" height="6" fill="#0000ff"/><rect x="794" y="364" width="1" height="22" fill="#ff0000"/><rect x="793" y="369" width="3" height="11" fill="#ff0000"/><rect x="797" y="384" width="1" height="9" fill="#ff0000"/><rect x="796" y="384" width="3" height="6" fill="#ff0000"/><rect x="801" y="381" width="1" height="12" fill="#ff0000"/><rect x="800" y="389" width="3" height="2" fill="#ff0000"/><rect x="804" y="387" width="1" height="17" fill="#ff0000"/><rect x="803" y="389" width="3" height="13" fill="#ff0000"/><rect x="808" y="400" width="1" height="18" fill="#ff0000"/><rect x="807" y="400" width="3" height="18" fill="#ff0000"/><rect x="811" y="379" width="1" height="35" fill="#0000ff"/><rect x="810" y="379" width="3" height="35" fill="#0000ff"/><rect x="814" y="372" width="1" height="15" fill="#ff0000"/><rect x="813" y="374" width="3" height="3" fill="#ff0000"/><rect x="818" y="370" width="1" height="10" fill="#0000ff"/><rect x="817" y="374" width="3" height="2" fill="#0000ff"/><rect x="821" y="358" width="1" height="15" fill="#0000ff"/><rect x="820" y="360" width="3" height="13" fill="#0000ff"/><rect x="825" y="352" width="1" height="8" fill="#0000ff"/><rect x="824" y="357" width="3" height="3" fill="#0000ff"/><rect x="828" y="347" width="1" height="10" fill="#0000ff"/><rect x="827" y="348" width="3" height="9" fill="#0000ff"/><rect x="832" y="341" width="1" height="10" fill="#0000ff"/><rect x="831" y="341" width="3" height="9" fill="#0000ff"/><rect x="835" y="344" width="1" height="15" fill="#ff0000"/><rect x="834" y="344" width="3" height="14" fill="#ff0000"/><rect x="839" y="358" width="1" height="15" fill="#ff0000"/><rect x="838" y="361" width="3" height="12" fill="#ff0000"/><rect x="842" y="363" width="1" height="16" fill="#ff0000"/><rect x="841" y="372" width="3" height="7" fill="#ff0000"/><rect x="846" y="376" width="1" height="10" fill="#0000ff"/><rect x="845" y="377" width="3" height="4" fill="#0000ff"/><rect x="849" y="366" width="1" height="14" fill="#0000ff"/><rect x="848" y="375" width="3" height="2" fill="#0000ff"/><rect x="853" y="362" width="1" height="14" fill="#ff0000"/><rect x="852" y="368" width="3" height="8" fill="#ff0000"/><rect x="856" y="365" width="1" height="11" fill="#0000ff"/><rect x="855" y="365" width="3" height="11" fill="#0000ff"/><rect x="860" y="349" width="1" height="11" fill="#0000ff"/><rect x="859" y="350" width="3" height="10" fill="#0000ff"/><rect x="863" y="345" width="1" height="7" fill="#0000ff"/><rect x="862" y="347" width="3" height="2" fill="#0000ff"/><rect x="866" y="340" width="1" height="9" fill="#0000ff"/><rect x="865" y="340" width="3" height="9" fill="#0000ff"/><rect x="870" y="327" width="1" height="18" fill="#0000ff"/><rect x="869" y="328" width="3" height="17" fill="#0000ff"/><rect x="873" y="324" width="1" height="10" fill="#ff0000"/><rect x="872" y="325" width="3" height="8" fill="#ff0000"/><rect x="877" y="326" width="1" height="11" fill="#ff0000"/><rect x="876" y="328" width="3" height="9" fill="#ff0000"/><rect x="880" y="336" width="1" height="9" fill="#0000ff"/><rect x="879" y="342" width="3" height="2" fill="#0000ff"/><rect x="884" y="331" width="1" height="14" fill="#0000ff"/><rect x="883" y="337" width="3" height="2" fill="#0000ff"/><rect x="887" y="346" width="1" height="24" fill="#ff0000"/><rect x="886" y="346" width="3" height="22" fill="#ff0000"/><rect x="891" y="354" width="1" height="12" fill="#0000ff"/><rect x="890" y="362" width="3" height="3" fill="#0000ff"/><rect x="894" y="367" width="1" height="26" fill="#ff0000"/><rect x="893" y="367" width="3" height="23" fill="#ff0000"/><rect x="898" y="387" width="1" height="18" fill="#0000ff"/><rect x="897" y="388" width="3" height="3" fill="#0000ff"/><rect x="901" y="382" width="1" height="16" fill="#0000ff"/><rect x="900" y="384" width="3" height="8" fill="#0000ff"/><rect x="905" y="390" width="1" height="15" fill="#0000ff"/><rect x="904" y="390" width="3" height="2" fill="#0000ff"/><rect x="908" y="376" width="1" height="12" fill="#0000ff"/><rect x="907" y="381" width="3" height="7" fill="#0000ff"/><rect x="912" y="370" width="1" height="22" fill="#ff0000"/><rect x="911" y="376" width="3" height="16" fill="#ff0000"/><rect x="915" y="390" width="1" height="25" fill="#ff0000"/><rect x="914" y="390" width="3" height="24" fill="#ff0000"/><rect x="918" y="407" width="1" height="10" fill="#0000ff"/><rect x="917" y="407" width="3" height="5" fill="#0000ff"/>
</g>
<polyline points="21.4,327.4 29.3,325.4 36.4,322.6 43.6,319.3 52.0,315.0 56.4,311.7 65.0,307.0 72.9,302.9 80.7,295.0 89.3,287.0 96.4,280.7 102.4,273.6 111.0,266.0 119.0,256.0 127.0,243.6 135.0,231.0 143.0,221.0 151.0,208.0 159.0,193.0 163.5,190.0 173.0,177.5 181.0,169.0 192.0,160.5 203.0,155.0 213.0,149.0 222.0,143.0 229.0,140.0 237.0,139.0 253.0,137.0 271.0,137.0 283.0,133.6 295.0,132.4 303.0,132.0 311.0,129.4 319.0,128.4 327.0,124.0 337.0,116.0 345.0,112.4 355.0,105.0 365.0,99.0 375.0,93.0 384.0,88.0 389.0,86.4 397.0,87.0 405.0,87.6 415.0,86.6 425.0,86.6 435.0,88.0 445.0,93.0 455.0,99.6 461.0,102.0 465.0,103.0 475.0,112.0 480.0,117.9 487.1,125.7 494.3,132.9 497.9,137.9 501.4,145.0 506.4,151.4 510.0,157.9 515.7,165.7 525.7,175.0 529.3,178.6 540.0,189.3 551.0,195.0 565.0,208.0 575.0,220.0 585.0,230.0 599.0,242.0 607.0,256.0 614.0,268.0 619.0,272.0 627.0,283.0 635.0,297.0 641.0,305.0 645.0,306.0 653.0,314.0 659.0,324.0 667.0,334.0 673.0,346.0 679.0,358.0 684.0,364.0 691.0,376.0 697.0,385.0 701.0,391.6 708.0,398.0 716.0,407.0 724.0,415.0 732.0,422.0 740.0,428.0 749.0,432.0 756.0,429.5 764.0,425.5 774.0,419.0 780.0,418.0 790.0,413.0 800.0,410.0 808.0,406.0 816.0,400.0 824.0,394.0 836.0,385.6 844.0,383.0 856.0,378.0 868.0,374.0 880.0,370.0 886.0,368.0 892.0,366.4 898.0,366.4 904.0,368.0 910.0,368.6 914.0,370.0 918.0,370.4" fill="none" stroke="#a51018" stroke-width="1" shape-rendering="crispEdges"/>
</svg>
<div class="t" style="left:18px;top:1px;font-size:15.5px;">Japan Nikkei 225 Index (NKY) 9338.04 <span style="color:#0000c8">+71.26</span></div>
<div class="t" style="left:686px;top:1px;font-size:15.5px;">www.fullermoney.com</div>
<div class="t" style="left:855px;top:1px;font-size:15.5px;">6 Jul 2010</div>
<div class="t" style="left:22px;top:28px;font-size:14px;color:#0000c8;">Weekly</div>
<div class="t" style="left:22px;top:45px;font-size:14px;color:#a51018;">MA 200</div>
<div class="t" style="left:932px;top:455px;font-size:14px;">8000</div>
<div class="t" style="left:932px;top:374px;font-size:14px;">10000</div>
<div class="t" style="left:932px;top:294px;font-size:14px;">12000</div>
<div class="t" style="left:932px;top:213px;font-size:14px;">14000</div>
<div class="t" style="left:932px;top:132px;font-size:14px;">16000</div>
<div class="t" style="left:932px;top:51px;font-size:14px;">18000</div>
<div class="t" style="left:26px;width:60px;text-align:center;top:528px;font-size:14px;">Oct</div>
<div class="t" style="left:74px;width:60px;text-align:center;top:528px;font-size:14px;">2006</div>
<div class="t" style="left:116px;width:60px;text-align:center;top:528px;font-size:14px;">Apr</div>
<div class="t" style="left:161px;width:60px;text-align:center;top:528px;font-size:14px;">Jul</div>
<div class="t" style="left:207px;width:60px;text-align:center;top:528px;font-size:14px;">Oct</div>
<div class="t" style="left:253px;width:60px;text-align:center;top:528px;font-size:14px;">2007</div>
<div class="t" style="left:297px;width:60px;text-align:center;top:528px;font-size:14px;">Apr</div>
<div class="t" style="left:342px;width:60px;text-align:center;top:528px;font-size:14px;">Jul</div>
<div class="t" style="left:386px;width:60px;text-align:center;top:528px;font-size:14px;">Oct</div>
<div class="t" style="left:434px;width:60px;text-align:center;top:528px;font-size:14px;">2008</div>
<div class="t" style="left:477px;width:60px;text-align:center;top:528px;font-size:14px;">Apr</div>
<div class="t" style="left:522px;width:60px;text-align:center;top:528px;font-size:14px;">Jul</div>
<div class="t" style="left:568px;width:60px;text-align:center;top:528px;font-size:14px;">Oct</div>
<div class="t" style="left:616px;width:60px;text-align:center;top:528px;font-size:14px;">2009</div>
<div class="t" style="left:658px;width:60px;text-align:center;top:528px;font-size:14px;">Apr</div>
<div class="t" style="left:703px;width:60px;text-align:center;top:528px;font-size:14px;">Jul</div>
<div class="t" style="left:749px;width:60px;text-align:center;top:528px;font-size:14px;">Oct</div>
<div class="t" style="left:797px;width:60px;text-align:center;top:528px;font-size:14px;">2010</div>
<div class="t" style="left:839px;width:60px;text-align:center;top:528px;font-size:14px;">Apr</div>
<div class="t" style="left:884px;width:60px;text-align:center;top:528px;font-size:14px;">Jul</div>
<div class="t" style="right:53px;top:547px;font-size:9.4px;color:#989898;">&copy; 2010 Stockcube Research Ltd</div>
</body></html>
